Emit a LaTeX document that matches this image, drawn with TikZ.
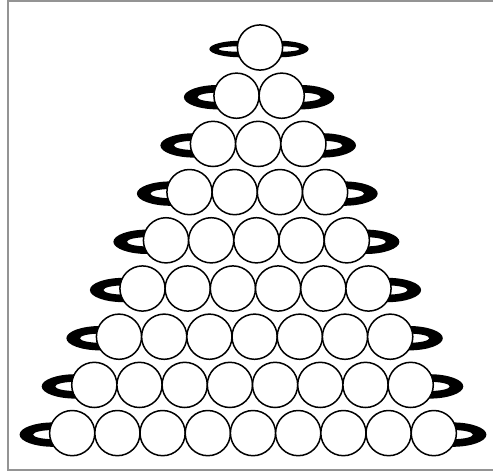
\documentclass[tikz,border=0pt]{standalone}
\usepackage{xcolor}
\usepackage{tikz}

% one end of a bead bar: x, y, end angle (270 left / -90 right),
% outer x/y radius, inner x/y radius
\newcommand{\barend}[7]{%
  \fill[even odd rule] (#1,#2-#5) arc[start angle=90, end angle=#3, x radius=#4pt, y radius=#5pt] -- cycle
    (#1,#2-#7) arc[start angle=90, end angle=#3, x radius=#6pt, y radius=#7pt] -- cycle;}

\begin{document}
\begin{tikzpicture}[x=1pt,y=-1pt,
  bead/.style={fill=white, draw=black, line width=1.5pt},
  frame/.style={draw=black!42, line width=1.8pt}]
\useasboundingbox (0,0) rectangle (493,472);
\draw[frame] (494,1) -- (7.8,1) -- (7.8,469.6) -- (494,469.6);

% bar ends behind the beads
\barend{241.4}{49.0}{270}{32}{8.3}{23}{2.8}
\barend{278.6}{49.0}{-90}{30}{8.3}{21}{2.8}
\barend{217.9}{97.2}{270}{34}{12.2}{20.5}{4.6}
\barend{300.3}{97.2}{-90}{34}{12.2}{20.5}{4.6}
\barend{194.4}{145.4}{270}{34}{12.2}{20.5}{4.6}
\barend{322.0}{145.4}{-90}{34}{12.2}{20.5}{4.6}
\barend{170.9}{193.6}{270}{34}{12.2}{20.5}{4.6}
\barend{343.7}{193.6}{-90}{34}{12.2}{20.5}{4.6}
\barend{147.4}{241.8}{270}{34}{12.2}{20.5}{4.6}
\barend{365.4}{241.8}{-90}{34}{12.2}{20.5}{4.6}
\barend{123.9}{290.0}{270}{34}{12.2}{20.5}{4.6}
\barend{387.1}{290.0}{-90}{34}{12.2}{20.5}{4.6}
\barend{100.4}{338.2}{270}{34}{12.2}{20.5}{4.6}
\barend{408.8}{338.2}{-90}{34}{12.2}{20.5}{4.6}
\barend{75.7}{386.4}{270}{34}{12.2}{20.5}{4.6}
\barend{429.3}{386.4}{-90}{34}{12.2}{20.5}{4.6}
\barend{53.6}{434.6}{270}{34}{12.2}{20.5}{4.6}
\barend{452.4}{434.6}{-90}{34}{12.2}{20.5}{4.6}

% 1
\filldraw[bead] (260.0,47.5) circle (22.6pt);

% 2
\filldraw[bead] (236.5,95.7) circle (22.6pt);
\filldraw[bead] (281.7,95.7) circle (22.6pt);

% 3
\filldraw[bead] (213.0,143.9) circle (22.6pt);
\filldraw[bead] (258.2,143.9) circle (22.6pt);
\filldraw[bead] (303.4,143.9) circle (22.6pt);

% 4
\filldraw[bead] (189.5,192.1) circle (22.6pt);
\filldraw[bead] (234.7,192.1) circle (22.6pt);
\filldraw[bead] (279.9,192.1) circle (22.6pt);
\filldraw[bead] (325.1,192.1) circle (22.6pt);

% 5
\filldraw[bead] (166.0,240.3) circle (22.6pt);
\filldraw[bead] (211.2,240.3) circle (22.6pt);
\filldraw[bead] (256.4,240.3) circle (22.6pt);
\filldraw[bead] (301.6,240.3) circle (22.6pt);
\filldraw[bead] (346.8,240.3) circle (22.6pt);

% 6
\filldraw[bead] (142.5,288.5) circle (22.6pt);
\filldraw[bead] (187.7,288.5) circle (22.6pt);
\filldraw[bead] (232.9,288.5) circle (22.6pt);
\filldraw[bead] (278.1,288.5) circle (22.6pt);
\filldraw[bead] (323.3,288.5) circle (22.6pt);
\filldraw[bead] (368.5,288.5) circle (22.6pt);

% 7
\filldraw[bead] (119.0,336.7) circle (22.6pt);
\filldraw[bead] (164.2,336.7) circle (22.6pt);
\filldraw[bead] (209.4,336.7) circle (22.6pt);
\filldraw[bead] (254.6,336.7) circle (22.6pt);
\filldraw[bead] (299.8,336.7) circle (22.6pt);
\filldraw[bead] (345.0,336.7) circle (22.6pt);
\filldraw[bead] (390.2,336.7) circle (22.6pt);

% 8
\filldraw[bead] (94.3,384.9) circle (22.6pt);
\filldraw[bead] (139.5,384.9) circle (22.6pt);
\filldraw[bead] (184.7,384.9) circle (22.6pt);
\filldraw[bead] (229.9,384.9) circle (22.6pt);
\filldraw[bead] (275.1,384.9) circle (22.6pt);
\filldraw[bead] (320.3,384.9) circle (22.6pt);
\filldraw[bead] (365.5,384.9) circle (22.6pt);
\filldraw[bead] (410.7,384.9) circle (22.6pt);

% 9
\filldraw[bead] (72.2,433.1) circle (22.6pt);
\filldraw[bead] (117.4,433.1) circle (22.6pt);
\filldraw[bead] (162.6,433.1) circle (22.6pt);
\filldraw[bead] (207.8,433.1) circle (22.6pt);
\filldraw[bead] (253.0,433.1) circle (22.6pt);
\filldraw[bead] (298.2,433.1) circle (22.6pt);
\filldraw[bead] (343.4,433.1) circle (22.6pt);
\filldraw[bead] (388.6,433.1) circle (22.6pt);
\filldraw[bead] (433.8,433.1) circle (22.6pt);
\end{tikzpicture}
\end{document}
